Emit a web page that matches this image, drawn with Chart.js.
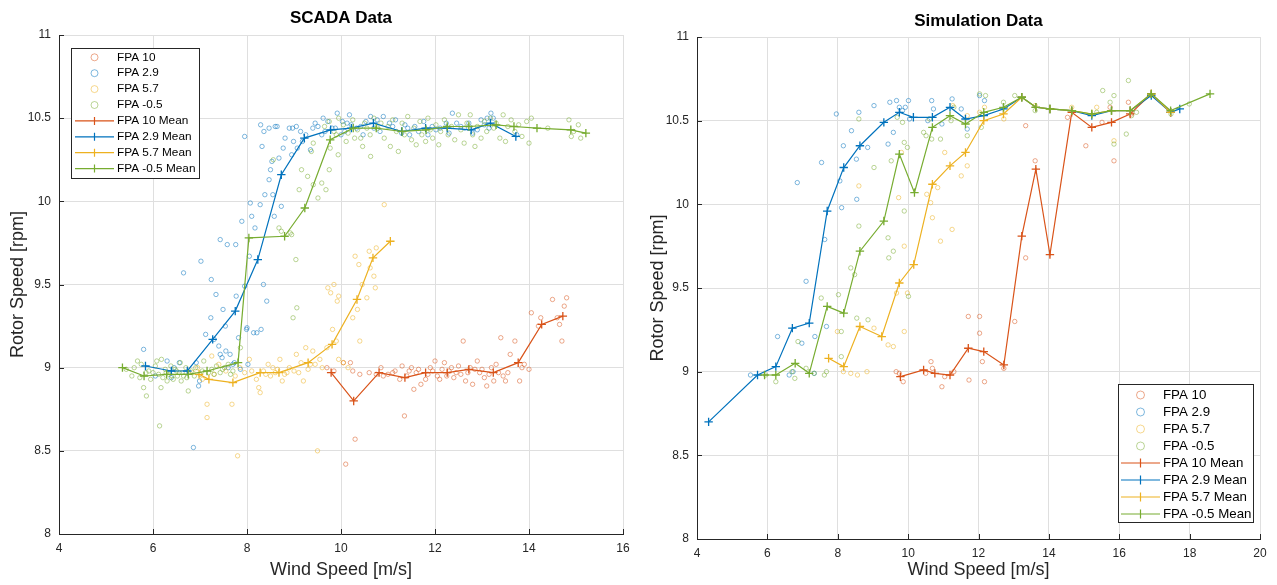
<!DOCTYPE html>
<html><head><meta charset="utf-8">
<script src="https://cdn.jsdelivr.net/npm/chart.js@4.4.1/dist/chart.umd.min.js"></script>
<style>
html,body{margin:0;padding:0;background:#fff;}
#wrap{position:relative;width:1277px;height:585px;overflow:hidden;background:#fff;}
canvas{position:absolute;top:0;}
#c1{left:0;} #c2{left:640px;}
</style></head><body>
<div id="wrap"><canvas id="c1" width="640" height="585"></canvas><canvas id="c2" width="637" height="585"></canvas></div>
<script>
// ---------------- DATA ----------------
const seriesLabels = ["FPA 10", "FPA 2.9", "FPA 5.7", "FPA -0.5", "FPA 10 Mean", "FPA 2.9 Mean", "FPA 5.7 Mean", "FPA -0.5 Mean"];
const titles = ["SCADA Data", "Simulation Data"];
const xLabel = "Wind Speed [m/s]";
const yLabel = "Rotor Speed [rpm]";

// SCADA scatter [wind, rotor]
const scada10 = [[9.70,9.00],[9.85,8.98],[10.05,9.03],[10.10,8.42],[10.20,9.03],[10.25,8.98],[10.30,8.57],[10.40,8.96],[10.60,8.97],[10.75,8.96],[10.85,9.00],[10.90,8.95],[11.00,8.96],[11.15,8.98],[11.25,8.93],[11.30,9.01],[11.35,8.71],[11.40,8.95],[11.45,8.98],[11.50,9.00],[11.55,8.87],[11.65,8.99],[11.70,8.90],[11.80,8.93],[11.90,9.00],[11.95,8.98],[12.00,9.04],[12.05,8.95],[12.10,8.93],[12.20,9.03],[12.30,8.98],[12.40,8.94],[12.45,8.97],[12.50,9.01],[12.55,8.96],[12.60,9.16],[12.65,8.92],[12.75,9.00],[12.80,8.90],[12.85,8.99],[12.90,9.04],[12.95,8.97],[13.05,8.94],[13.10,8.89],[13.20,9.00],[13.25,8.92],[13.30,9.02],[13.40,9.18],[13.45,8.95],[13.50,8.92],[13.55,8.97],[13.60,9.08],[13.70,9.16],[13.80,8.92],[13.85,9.00],[13.90,9.02],[14.00,8.99],[14.05,9.33],[14.20,9.25],[14.25,9.30],[14.50,9.41],[14.60,9.30],[14.65,9.26],[14.70,9.16],[14.75,9.37],[14.80,9.42],[11.10,8.97],[11.85,8.96],[12.25,8.95],[12.35,9.00],[12.70,8.97],[13.00,8.99],[13.15,8.96],[13.35,8.97],[12.15,8.99],[11.60,8.97]];
const scada29 = [[5.80,9.11],[6.05,8.95],[6.30,9.04],[6.39,8.94],[6.45,9.00],[6.56,9.03],[6.65,9.57],[6.86,8.52],[6.92,9.03],[6.97,8.89],[6.99,8.92],[7.02,9.64],[7.12,9.20],[7.24,9.53],[7.23,9.30],[7.30,9.17],[7.34,9.44],[7.40,9.13],[7.43,9.77],[7.43,9.08],[7.47,9.06],[7.49,9.35],[7.54,9.25],[7.55,9.10],[7.58,9.74],[7.60,9.00],[7.64,9.08],[7.70,9.02],[7.73,9.03],[7.76,9.74],[7.77,9.43],[7.82,9.18],[7.86,8.99],[7.89,9.88],[7.95,10.39],[7.95,9.49],[7.99,9.23],[8.00,9.24],[8.02,9.02],[8.05,9.67],[8.07,9.99],[8.10,9.91],[8.14,9.21],[8.17,9.84],[8.21,9.21],[8.28,9.98],[8.29,10.46],[8.30,9.23],[8.32,10.33],[8.35,9.50],[8.36,10.42],[8.38,10.04],[8.42,9.40],[8.47,10.13],[8.47,10.44],[8.50,10.19],[8.53,10.24],[8.55,10.04],[8.58,9.91],[8.60,10.45],[8.64,10.45],[8.68,10.26],[8.73,9.97],[8.77,10.32],[8.81,10.38],[8.90,10.44],[8.95,10.28],[8.97,10.44],[8.99,10.36],[9.05,10.45],[9.07,10.32],[9.14,10.42],[9.18,10.36],[9.25,10.40],[9.35,10.31],[9.40,10.44],[9.45,10.47],[9.51,10.45],[9.59,10.40],[9.62,10.50],[9.66,10.42],[9.72,10.48],[9.81,10.44],[9.88,10.44],[9.92,10.53],[10.00,10.40],[10.03,10.48],[10.08,10.42],[10.13,10.47],[10.18,10.52],[10.22,10.46],[10.33,10.44],[10.42,10.45],[10.47,10.40],[10.53,10.48],[10.63,10.51],[10.70,10.44],[10.77,10.49],[10.83,10.42],[10.90,10.51],[11.03,10.47],[11.10,10.45],[11.16,10.49],[11.29,10.41],[11.36,10.46],[11.42,10.44],[11.46,10.40],[11.57,10.45],[11.65,10.42],[11.76,10.48],[11.85,10.40],[11.94,10.45],[12.02,10.43],[12.11,10.44],[12.24,10.47],[12.30,10.41],[12.37,10.53],[12.46,10.47],[12.55,10.45],[12.63,10.44],[12.72,10.47],[12.80,10.41],[12.90,10.43],[12.98,10.49],[13.05,10.46],[13.11,10.50],[13.15,10.44],[13.19,10.53],[13.24,10.50],[13.74,10.40]];
const scada57 = [[6.85,8.97],[6.95,9.00],[7.05,8.93],[7.15,8.78],[7.15,8.70],[7.25,9.07],[7.30,8.96],[7.40,9.02],[7.55,8.98],[7.68,8.78],[7.75,8.95],[7.80,8.47],[7.85,9.00],[7.95,8.97],[8.05,9.05],[8.20,8.93],[8.25,8.88],[8.28,8.85],[8.35,8.98],[8.45,9.02],[8.50,8.95],[8.55,9.00],[8.60,8.97],[8.70,9.05],[8.75,8.92],[8.80,8.96],[8.90,9.00],[9.00,8.98],[9.05,9.08],[9.10,8.97],[9.15,9.03],[9.20,8.92],[9.25,9.12],[9.30,8.99],[9.40,9.10],[9.45,9.02],[9.50,8.50],[9.55,9.05],[9.60,9.00],[9.70,9.12],[9.72,9.48],[9.78,9.45],[9.82,9.23],[9.85,9.50],[9.90,9.16],[9.92,9.40],[9.95,9.05],[9.95,9.43],[10.05,9.03],[10.15,9.00],[10.25,9.30],[10.30,9.67],[10.35,9.35],[10.38,9.62],[10.40,9.16],[10.45,9.50],[10.55,9.42],[10.60,9.70],[10.62,9.60],[10.70,9.55],[10.73,9.48],[10.75,9.72],[10.92,9.98],[8.10,8.98],[8.40,8.96],[8.65,8.99],[8.85,8.97],[9.35,9.02]];
const scadaM05 = [[5.43,8.99],[5.55,8.95],[5.60,9.00],[5.67,9.04],[5.72,8.94],[5.75,9.02],[5.80,8.88],[5.85,8.97],[5.86,8.83],[5.91,8.98],[5.95,8.93],[6.00,8.97],[6.05,9.01],[6.08,9.04],[6.12,8.96],[6.14,8.65],[6.17,8.88],[6.18,9.05],[6.21,8.94],[6.26,8.99],[6.28,8.97],[6.30,8.92],[6.34,8.96],[6.38,9.01],[6.40,8.95],[6.43,8.93],[6.47,8.99],[6.50,8.98],[6.52,8.95],[6.56,8.97],[6.58,9.03],[6.60,8.92],[6.62,8.97],[6.65,8.95],[6.70,9.00],[6.72,8.94],[6.75,8.86],[6.82,8.98],[6.88,8.95],[6.91,9.00],[7.00,8.96],[7.05,8.98],[7.08,9.04],[7.18,8.97],[7.25,8.99],[7.30,8.96],[7.35,9.01],[7.43,8.97],[7.48,8.99],[7.52,9.00],[7.60,9.02],[7.65,8.96],[7.70,8.98],[7.86,9.12],[8.56,10.25],[8.68,9.84],[8.73,9.82],[8.92,9.81],[8.95,9.80],[9.04,9.65],[8.98,9.30],[9.06,9.36],[9.11,10.07],[9.16,10.19],[9.29,10.15],[9.37,10.30],[9.41,10.35],[9.41,10.10],[9.51,10.02],[9.59,10.11],[9.68,10.07],[9.75,10.19],[9.77,10.32],[9.94,10.28],[10.11,10.36],[10.29,10.38],[10.46,10.33],[10.63,10.27],[9.65,10.45],[9.75,10.48],[9.85,10.42],[9.90,10.40],[9.95,10.50],[10.05,10.46],[10.15,10.41],[10.25,10.49],[10.35,10.43],[10.42,10.38],[10.50,10.47],[10.55,10.44],[10.62,10.40],[10.70,10.50],[10.78,10.44],[10.85,10.47],[10.92,10.38],[11.00,10.45],[11.05,10.33],[11.10,10.49],[11.18,10.42],[11.22,10.30],[11.30,10.47],[11.35,10.40],[11.42,10.51],[11.50,10.37],[11.55,10.44],[11.60,10.34],[11.68,10.48],[11.72,10.40],[11.80,10.36],[11.85,10.50],[11.90,10.43],[11.95,10.38],[12.02,10.46],[12.08,10.34],[12.12,10.42],[12.20,10.49],[12.28,10.40],[12.35,10.45],[12.42,10.37],[12.50,10.52],[12.55,10.43],[12.62,10.35],[12.68,10.47],[12.75,10.52],[12.80,10.40],[12.85,10.33],[12.90,10.45],[12.98,10.38],[13.05,10.48],[13.10,10.42],[13.18,10.50],[13.25,10.44],[13.30,10.47],[13.38,10.38],[13.45,10.52],[13.50,10.36],[13.55,10.45],[13.62,10.49],[13.70,10.42],[13.78,10.46],[13.85,10.39],[13.95,10.48],[14.00,10.35],[14.05,10.50],[14.40,10.44],[14.85,10.49],[14.90,10.39],[14.95,10.42],[15.05,10.46],[15.10,10.38]];

// SCADA bin means
const scadaMean10 = [[9.79,8.97],[10.27,8.80],[10.81,8.97],[11.36,8.94],[11.80,8.97],[12.26,8.97],[12.72,8.99],[13.24,8.97],[13.77,9.03],[14.27,9.26],[14.72,9.31]];
const scadaMean29 = [[5.84,9.01],[6.39,8.98],[6.73,8.98],[7.27,9.17],[7.75,9.34],[8.23,9.65],[8.73,10.16],[9.22,10.38],[9.78,10.43],[10.22,10.44],[10.69,10.47],[11.29,10.42],[11.80,10.44],[12.26,10.44],[12.77,10.43],[13.18,10.47],[13.72,10.39]];
const scadaMean57 = [[6.98,8.96],[7.19,8.93],[7.70,8.91],[8.28,8.97],[8.68,8.97],[9.30,9.03],[9.81,9.14],[10.34,9.41],[10.68,9.66],[11.05,9.76]];
const scadaMeanM05 = [[5.35,9.00],[5.81,8.95],[6.29,8.96],[6.75,8.96],[7.15,8.98],[7.81,9.03],[8.04,9.78],[8.80,9.79],[9.23,9.96],[9.77,10.37],[10.26,10.44],[10.75,10.44],[11.30,10.42],[11.81,10.43],[12.26,10.45],[12.72,10.45],[13.30,10.46],[13.68,10.45],[14.17,10.44],[14.89,10.43],[15.21,10.41]];

// Simulation scatter [wind, rotor]
const sim10 = [[9.66,9.00],[9.75,8.99],[9.86,8.94],[10.50,8.99],[10.65,9.06],[10.69,9.02],[10.96,8.91],[11.04,8.97],[11.30,9.00],[11.71,9.33],[11.73,8.95],[12.03,9.33],[12.03,9.23],[12.11,9.06],[12.17,8.94],[12.72,9.02],[13.03,9.30],[13.34,9.68],[13.61,10.26],[13.34,10.47],[14.53,10.52],[15.05,10.35],[15.51,10.49],[15.74,10.58],[15.85,10.26],[16.26,10.61],[16.35,10.54]];
const sim29 = [[5.52,8.98],[6.29,9.21],[6.62,8.98],[6.73,9.00],[6.85,10.13],[6.98,9.17],[7.10,9.54],[7.33,8.99],[7.35,9.21],[7.54,10.25],[7.63,9.79],[7.68,9.27],[7.96,10.54],[8.06,10.14],[8.11,9.98],[8.16,10.35],[8.39,10.44],[8.53,10.27],[8.54,10.03],[8.60,10.55],[8.85,10.34],[9.03,10.59],[9.43,10.36],[9.48,10.61],[9.58,10.43],[9.67,10.62],[9.75,10.58],[9.84,10.56],[9.92,10.58],[10.01,10.62],[10.04,10.51],[10.56,10.50],[10.67,10.62],[10.72,10.57],[10.96,10.48],[11.25,10.63],[11.51,10.57],[11.68,10.45],[12.03,10.65],[12.17,10.62]];
const sim57 = [[7.99,9.24],[8.16,9.00],[8.37,8.99],[8.56,8.98],[8.60,10.11],[8.83,9.00],[9.03,9.26],[9.43,9.16],[9.58,9.15],[9.67,9.47],[9.73,10.04],[9.81,10.31],[9.89,9.24],[9.89,9.75],[9.98,9.47],[10.53,10.06],[10.64,10.01],[10.69,9.92],[10.84,10.10],[10.92,9.78],[11.04,10.31],[11.25,9.85],[11.27,10.59],[11.51,10.17],[11.68,10.23],[11.68,10.53],[12.03,10.55],[12.17,10.58],[12.72,10.51],[13.61,10.59],[14.65,10.58],[15.36,10.58],[15.85,10.38]];
const simM05 = [[5.95,8.98],[6.24,8.94],[6.70,9.00],[6.78,8.96],[6.87,9.18],[7.10,9.02],[7.33,8.99],[7.53,9.44],[7.62,8.98],[7.68,9.00],[8.02,9.46],[8.10,9.24],[8.10,9.09],[8.54,9.32],[8.48,9.58],[8.37,9.62],[8.60,9.87],[8.60,10.51],[8.86,9.31],[9.03,10.22],[9.43,9.80],[9.45,9.68],[9.52,10.26],[9.58,9.72],[9.69,10.52],[9.84,10.49],[9.89,10.37],[9.89,9.96],[9.98,10.34],[10.01,9.45],[10.44,10.43],[10.51,10.41],[10.61,10.51],[10.67,10.39],[10.92,10.39],[11.22,10.50],[11.30,10.58],[11.68,10.41],[12.03,10.66],[12.08,10.46],[12.20,10.65],[12.71,10.61],[13.03,10.65],[13.61,10.56],[15.36,10.55],[15.53,10.68],[15.74,10.61],[15.85,10.36],[15.85,10.65],[16.20,10.42],[16.26,10.74],[16.35,10.53],[16.49,10.55],[17.47,10.54],[17.99,10.60]];

// Simulation bin means
const simMean10 = [[9.78,8.97],[10.44,9.01],[10.76,8.99],[11.19,8.98],[11.71,9.14],[12.15,9.12],[12.72,9.04],[13.23,9.81],[13.63,10.21],[14.03,9.70],[14.65,10.55],[15.22,10.46],[15.78,10.49],[16.31,10.54],[16.91,10.66],[17.46,10.55]];
const simMean29 = [[4.33,8.70],[5.72,8.98],[6.24,9.03],[6.71,9.26],[7.19,9.29],[7.70,9.96],[8.17,10.22],[8.63,10.35],[9.31,10.49],[9.75,10.55],[10.15,10.52],[10.69,10.52],[11.19,10.58],[11.63,10.51],[12.15,10.53],[12.71,10.57],[13.23,10.64],[13.63,10.58],[14.03,10.57],[14.65,10.56],[15.22,10.53],[15.78,10.56],[16.31,10.56],[16.91,10.65],[17.46,10.55],[17.72,10.57]];
const simMean57 = [[7.74,9.08],[8.17,9.03],[8.63,9.27],[9.25,9.21],[9.75,9.53],[10.16,9.64],[10.69,10.12],[11.19,10.23],[11.63,10.31],[12.15,10.50],[12.71,10.54],[13.23,10.64],[13.63,10.58],[14.03,10.57],[14.65,10.56],[15.22,10.54],[15.78,10.56],[16.31,10.56],[16.91,10.66],[17.46,10.55]];
const simMeanM05 = [[5.92,8.98],[6.24,8.98],[6.79,9.05],[7.19,8.99],[7.70,9.39],[8.17,9.35],[8.63,9.72],[9.31,9.90],[9.75,10.30],[10.18,10.07],[10.69,10.46],[11.19,10.53],[11.63,10.48],[12.15,10.55],[12.71,10.58],[13.23,10.64],[13.63,10.58],[14.03,10.57],[14.65,10.56],[15.22,10.54],[15.78,10.56],[16.31,10.56],[16.91,10.66],[17.46,10.56],[18.58,10.66]];

const yTicksRange = [8, 11];
const xRangeScada = [4, 16];
const xRangeSim = [4, 20];

// ---------------- STYLE ----------------
const FONT = '"Liberation Sans", Arial, Helvetica, sans-serif';
const lineColors = ['#D95319', '#0072BD', '#EDB120', '#77AC30'];
const scatColors = ['rgba(217,83,25,0.5)', 'rgba(0,114,189,0.5)', 'rgba(237,177,32,0.5)', 'rgba(119,172,48,0.5)'];

function toXY(arr){ return arr.map(p => ({x:p[0], y:p[1]})); }

function buildDatasets(scatters, means){
  const ds = [];
  scatters.forEach((s,i) => ds.push({
    label: seriesLabels[i], data: toXY(s), showLine:false,
    pointStyle:'circle', pointRadius:2.2, pointBorderWidth:1,
    pointBackgroundColor:'rgba(0,0,0,0)', pointBorderColor:scatColors[i],
    borderColor:scatColors[i], backgroundColor:'rgba(0,0,0,0)', order: 8-i
  }));
  means.forEach((m,i) => ds.push({
    label: seriesLabels[4+i], data: toXY(m), showLine:true, tension:0,
    borderColor:lineColors[i], borderWidth:1.2, backgroundColor:lineColors[i],
    pointStyle:'cross', pointRadius:4.2, pointBorderWidth:1.3,
    pointBorderColor:lineColors[i], order: 4-i
  }));
  return ds;
}

// centre the title over the plot area (as in the reference)
const titleOverArea = {
  id:'titleOverArea',
  afterLayout(chart){
    const t = chart.titleBlock;
    if (t){ t.left = chart.chartArea.left; t.right = chart.chartArea.right; t.width = t.right - t.left; }
  }
};

const inTicks = {
  id:'inTicks',
  afterDraw(chart){
    const {ctx, chartArea:a, scales:{x,y}} = chart;
    ctx.save(); ctx.strokeStyle='#262626'; ctx.lineWidth=1; ctx.beginPath();
    x.ticks.forEach(t => { const px = Math.round(x.getPixelForValue(t.value))+0.5; ctx.moveTo(px, a.bottom); ctx.lineTo(px, a.bottom-5); });
    y.ticks.forEach(t => { const py = Math.round(y.getPixelForValue(t.value))+0.5; ctx.moveTo(a.left, py); ctx.lineTo(a.left+5, py); });
    ctx.stroke(); ctx.restore();
  }
};

const boxLegend = {
  id:'boxLegend',
  afterDraw(chart, args, L){
    const ctx = chart.ctx;
    ctx.save();
    ctx.fillStyle='#fff'; ctx.fillRect(L.x, L.y, L.w, L.h);
    ctx.strokeStyle='#262626'; ctx.lineWidth=1;
    ctx.strokeRect(L.x+0.5, L.y+0.5, L.w, L.h);
    ctx.font = L.size+'px '+FONT; ctx.textBaseline='middle'; ctx.textAlign='left';
    const cx = (L.lx0+L.lx1)/2;
    chart.data.datasets.forEach((ds,i) => {
      const y = L.row0 + i*L.step;
      if (ds.showLine){
        ctx.strokeStyle = ds.borderColor; ctx.lineWidth = 1.2;
        ctx.beginPath(); ctx.moveTo(L.lx0,y); ctx.lineTo(L.lx1,y);
        ctx.moveTo(cx, y-L.cross); ctx.lineTo(cx, y+L.cross); ctx.stroke();
      } else {
        ctx.strokeStyle = ds.borderColor; ctx.lineWidth = 1;
        ctx.beginPath(); ctx.arc(cx, y, L.circ, 0, Math.PI*2); ctx.stroke();
      }
      ctx.fillStyle='#000'; ctx.fillText(ds.label, L.tx, y);
    });
    ctx.restore();
  }
};

function makeChart(id, W, H, area, title, xr, datasets, legend){
  const titleH = 17*1.2;
  return new Chart(document.getElementById(id), {
    type:'scatter',
    data:{datasets},
    options:{
      responsive:false, animation:false, devicePixelRatio:1,
      layout:{padding:{left:0, right:W-area.right, top:0, bottom:0}},
      plugins:{
        legend:{display:false}, tooltip:{enabled:false},
        title:{display:true, text:title, color:'#000',
          font:{family:FONT, size:17, weight:'bold'},
          padding:{top:area.titleY - titleH/2, bottom:area.top - (area.titleY + titleH/2)}},
        boxLegend:legend
      },
      scales:{
        x:{type:'linear', min:xr[0], max:xr[1],
          afterFit(s){ s.height = H-area.bottom; },
          ticks:{stepSize:2, color:'#262626', padding:7, font:{family:FONT, size:12}, maxRotation:0},
          grid:{color:'#dfdfdf', lineWidth:1, drawTicks:false},
          border:{display:true, color:'#262626', width:1},
          title:{display:true, text:xLabel, color:'#262626', font:{family:FONT, size:18}, padding:{top:0,bottom:4}}
        },
        y:{type:'linear', min:yTicksRange[0], max:yTicksRange[1],
          afterFit(s){ s.width = area.left; },
          ticks:{stepSize:0.5, color:'#262626', padding:8, font:{family:FONT, size:12}, callback:v=>String(v)},
          grid:{color:'#dfdfdf', lineWidth:1, drawTicks:false},
          border:{display:true, color:'#262626', width:1},
          title:{display:true, text:yLabel, color:'#262626', font:{family:FONT, size:18}, padding:{top:7,bottom:0}}
        }
      }
    },
    plugins:[titleOverArea, inTicks, boxLegend]
  });
}

makeChart('c1', 640, 585, {left:59, right:623, top:35, bottom:534, titleY:18}, titles[0], xRangeScada,
  buildDatasets([scada10, scada29, scada57, scadaM05],[scadaMean10, scadaMean29, scadaMean57, scadaMeanM05]),
  {x:71, y:48, w:128, h:130, row0:57.3, step:15.9, lx0:75, lx1:114, tx:117, size:11.8, cross:4, circ:3.5});

makeChart('c2', 637, 585, {left:57, right:620, top:37, bottom:539, titleY:21.5}, titles[1], xRangeSim,
  buildDatasets([sim10, sim29, sim57, simM05],[simMean10, simMean29, simMean57, simMeanM05]),
  {x:478, y:384, w:135, h:138, row0:395, step:17, lx0:481, lx1:520, tx:523, size:13.3, cross:4.5, circ:4});
</script>
</body></html>
